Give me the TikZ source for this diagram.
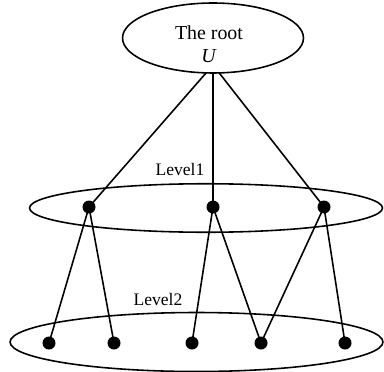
\documentclass[tikz,border=0pt]{standalone}
\usepackage{fontspec}
\setmainfont{Liberation Serif}
\usetikzlibrary{shapes.geometric}
\tikzset{
  levelset/.style={draw,ellipse,inner sep=0pt},
  dot/.style={circle,fill=black,inner sep=0pt,minimum size=0.26cm}
}
\begin{document}
\begin{tikzpicture}[x=0.02cm,y=-0.02cm,line width=0.9pt]
  \useasboundingbox (0,0) rectangle (384,371);
  % the two level sets
  \node[levelset,minimum width=7.06cm,minimum height=0.97cm] (lone) at (206,208) {};
  \node[levelset,minimum width=7.46cm,minimum height=1.18cm] (ltwo) at (196.5,342) {};
  \node (labone) at (180,169) {Level1};
  \node (labtwo) at (158,299) {Level2};
  % points
  \foreach \n/\x in {a1/89, a2/213, a3/324}
    \node[dot] (\n) at (\x,207) {};
  \foreach \n/\x in {b1/49, b2/114, b3/192, b4/261, b5/345}
    \node[dot] (\n) at (\x,343) {};
  % edges to the root
  \coordinate (hub) at (213,65);
  \foreach \n in {a1,a2,a3}
    \draw (\n.center) -- (hub);
  \node[levelset,fill=white,minimum width=3.62cm,minimum height=1.4cm] (root) at (213,38) {};
  \node[align=center,font=\fontsize{11.3}{13}\selectfont] (rootlab) at (209,44) {The root\\\textit{U}};
  % edges between the levels
  \foreach \a/\b in {a1/b1, a1/b2, a2/b3, a2/b4, a3/b4, a3/b5}
    \draw (\a.center) -- (\b.center);
\end{tikzpicture}
\end{document}
